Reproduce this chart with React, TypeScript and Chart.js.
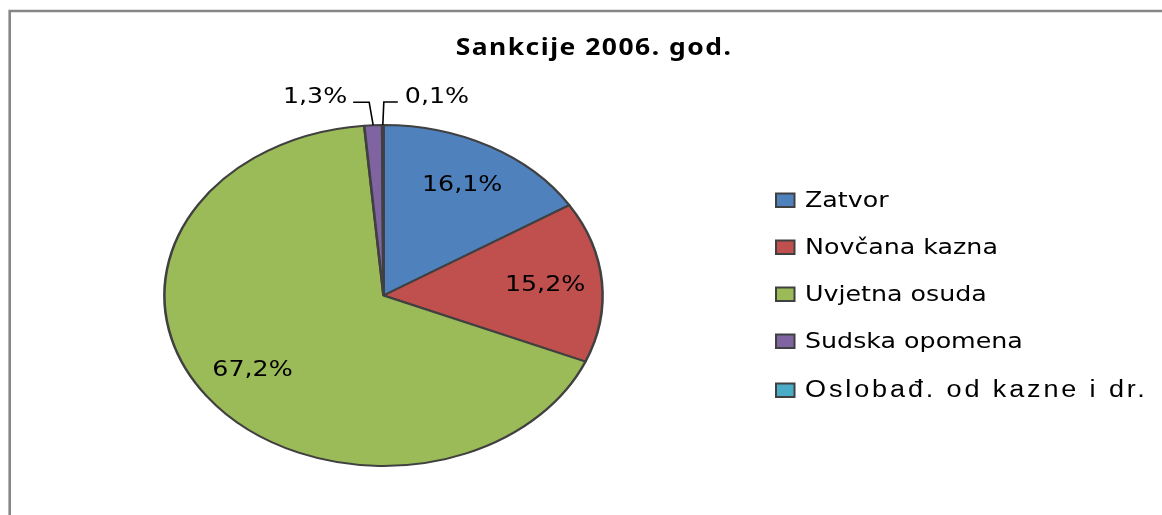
import React, { useEffect, useRef } from "react";
import { Chart, registerables } from "chart.js";

Chart.register(...registerables);

const titleText = "Sankcije 2006. god.";
const categories = [
  "Zatvor",
  "Novčana kazna",
  "Uvjetna osuda",
  "Sudska opomena",
  "Oslobađ. od kazne i dr.",
];
const values = [16.1, 15.2, 67.2, 1.3, 0.1];
const colors = ["#4F81BD", "#C0504D", "#9BBB59", "#8064A2", "#4BACC6"];

const fmt = (v: number) => v.toFixed(1).replace(".", ",") + "%";

const SX = 1.285; // horizontal stretch of the pie (ellipse)
const TX = 1.15; // horizontal stretch of text

function stretchedText(
  ctx: CanvasRenderingContext2D,
  text: string,
  x: number,
  y: number,
  align: CanvasTextAlign,
  font: string,
  spacing = "0px"
) {
  ctx.save();
  ctx.translate(x, y);
  ctx.scale(TX, 1);
  ctx.font = font;
  (ctx as any).letterSpacing = spacing;
  ctx.textAlign = align;
  ctx.textBaseline = "middle";
  ctx.fillStyle = "#000";
  ctx.fillText(text, 0, 0);
  ctx.restore();
}

const ellipsePlugin = {
  id: "ellipse",
  beforeDatasetsDraw(chart: any) {
    const arc = chart.getDatasetMeta(0).data[0];
    const ctx = chart.ctx;
    ctx.save();
    ctx.translate(arc.x, arc.y);
    ctx.scale(SX, 1);
    ctx.translate(-arc.x, -arc.y);
  },
  afterDatasetsDraw(chart: any) {
    chart.ctx.restore();
  },
};

const decorPlugin = {
  id: "decor",
  afterDraw(chart: any) {
    const ctx: CanvasRenderingContext2D = chart.ctx;
    // frame
    ctx.save();
    ctx.strokeStyle = "#868686";
    ctx.lineWidth = 2.6;
    ctx.beginPath();
    ctx.moveTo(9.7, 520);
    ctx.lineTo(9.7, 11);
    ctx.lineTo(1170, 11);
    ctx.stroke();
    ctx.restore();

    // title
    stretchedText(ctx, titleText, 594, 48, "center", "bold 23px 'Noto Sans'", "1.3px");

    // data labels
    const meta = chart.getDatasetMeta(0);
    meta.data.forEach((arc: any, i: number) => {
      const mid = (arc.startAngle + arc.endAngle) / 2;
      const R = arc.outerRadius;
      const v = values[i];
      const font = "22px 'DejaVu Sans'";
      if (v >= 5) {
        const px = arc.x + Math.cos(mid) * R * 0.74 * SX;
        const py = arc.y + Math.sin(mid) * R * 0.74;
        stretchedText(ctx, fmt(v), px, py, "center", font);
      } else {
        const ex = arc.x + Math.cos(mid) * R * SX;
        const ey = arc.y + Math.sin(mid) * R;
        const ly = ey - 23;
        const left = i === 3;
        ctx.save();
        ctx.strokeStyle = "#000";
        ctx.lineWidth = 1.6;
        ctx.beginPath();
        ctx.moveTo(ex, ey);
        if (left) {
          ctx.lineTo(ex - 4, ly);
          ctx.lineTo(ex - 20, ly);
        } else {
          ctx.lineTo(ex + 1, ly);
          ctx.lineTo(ex + 15, ly);
        }
        ctx.stroke();
        ctx.restore();
        if (left) stretchedText(ctx, fmt(v), ex - 26, ly - 5, "right", font);
        else stretchedText(ctx, fmt(v), ex + 22, ly - 5, "left", font);
      }
    });

    // legend
    const rows = [200, 247, 294, 341, 390];
    categories.forEach((c, i) => {
      const y = rows[i];
      ctx.save();
      ctx.fillStyle = colors[i];
      ctx.fillRect(776, y - 6.5, 18.5, 13.5);
      ctx.strokeStyle = "#404040";
      ctx.lineWidth = 2;
      ctx.strokeRect(776, y - 6.5, 18.5, 13.5);
      ctx.restore();
      if (i === 4) {
        stretchedText(ctx, c, 805, y + 1, "left", "23.5px 'Liberation Sans'", "2.5px");
      } else {
        stretchedText(ctx, c, 805, y + 1, "left", "22px 'DejaVu Sans'");
      }
    });
  },
};

export default function App() {
  const ref = useRef<HTMLCanvasElement>(null);
  useEffect(() => {
    if (!ref.current) return;
    const cx = 383.5;
    const cy = 295.5;
    const half = 171.5;
    const chart = new Chart(ref.current, {
      type: "pie",
      data: {
        labels: categories,
        datasets: [
          {
            data: values,
            backgroundColor: colors,
            borderColor: "#404040",
            borderWidth: 2,
            clip: false,
          } as any,
        ],
      },
      options: {
        responsive: false,
        animation: false,
        devicePixelRatio: 1,
        layout: {
          padding: {
            left: cx - half,
            right: 1162 - (cx + half),
            top: cy - half,
            bottom: 515 - (cy + half),
          },
        },
        plugins: {
          legend: { display: false },
          title: { display: false },
          tooltip: { enabled: false },
        },
      },
      plugins: [ellipsePlugin, decorPlugin],
    });
    return () => chart.destroy();
  }, []);
  return (
    <div style={{ position: "absolute", left: 0, top: 0, width: 1162, height: 515, background: "#fff" }}>
      <canvas ref={ref} width={1162} height={515} style={{ display: "block" }} />
    </div>
  );
}
